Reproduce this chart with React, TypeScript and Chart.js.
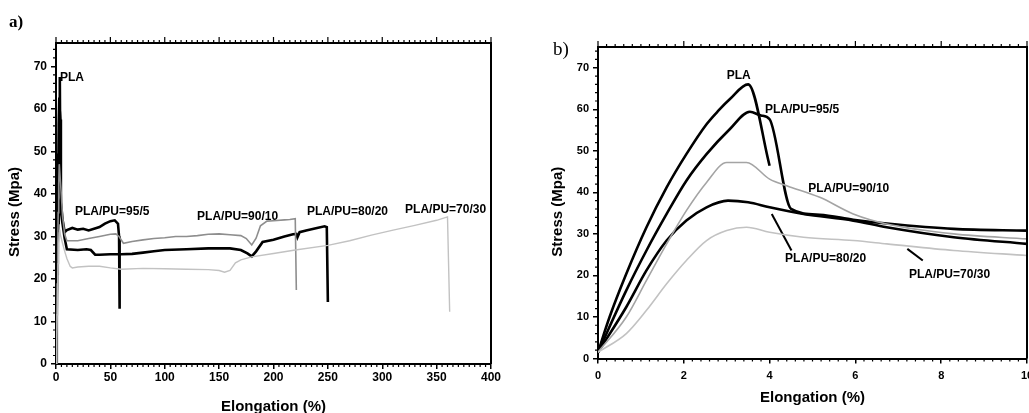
import React, { useEffect, useRef } from "react";
import { Chart, registerables } from "chart.js";

Chart.register(...registerables);

const FONT = "'Liberation Sans', Arial, sans-serif";

// ---------- Panel a: full stress-strain curves ----------
const plaAX = [0, 0.7, 1.1, 1.6, 2, 2.5, 3, 3.5, 4];
const plaAY = [0, 20.4, 31.6, 41.2, 49.2, 56.4, 62.4, 67.5, 46];

const pu95AX = [0, 0.66, 1.1, 1.6, 2, 2.5, 3, 3.5, 4, 4.5, 6, 8, 10, 15, 20, 25, 30, 35, 40, 45, 50, 54, 57, 58, 58.5];
const pu95AY = [0, 16.4, 26, 34.8, 42.8, 49.2, 55.2, 59.5, 57.5, 38, 34, 31, 31.5, 32, 31.6, 31.8, 31.4, 31.8, 32.2, 33, 33.6, 33.8, 33, 30, 13];

const pu90AX = [0, 0.66, 1.1, 1.6, 2, 2.5, 3, 3.5, 4, 5, 6, 8, 10, 20, 30, 40, 50, 55, 58, 62, 70, 80, 90, 100, 110, 120, 130, 140, 150, 160, 170, 175, 180, 184, 188, 194, 200, 210, 215, 220, 221];
const pu90AY = [0, 10, 18.8, 27.6, 35.6, 42.4, 47, 47, 43.2, 39.5, 34.8, 30.5, 29, 29, 29.5, 30, 30.5, 30.6, 30, 28.4, 28.8, 29.2, 29.5, 29.7, 30, 30, 30.2, 30.5, 30.6, 30.4, 30.2, 29.5, 28, 29.6, 32.5, 33.6, 33.7, 33.9, 34, 34.2, 17.4];

const pu80AX = [0, 0.66, 1.1, 1.6, 2, 2.5, 3, 3.5, 4, 5, 6, 8, 10, 20, 28, 32, 36, 40, 50, 60, 70, 80, 90, 100, 120, 140, 160, 170, 176, 180, 184, 190, 200, 210, 218, 221, 222, 224, 230, 240, 247, 249, 250];
const pu80AY = [0, 12.4, 21.2, 28.4, 33.2, 36.4, 38, 37.6, 36.4, 35, 33, 29.5, 27, 26.8, 27, 26.8, 25.7, 25.7, 25.8, 25.8, 25.9, 26.2, 26.5, 26.8, 27, 27.2, 27.2, 26.8, 26, 25.3, 26.5, 28.7, 29.2, 30, 30.5, 30.6, 29.8, 31, 31.4, 32, 32.4, 32.2, 14.6];

const pu70AX = [0, 0.66, 1.1, 1.6, 2, 2.5, 3, 3.5, 4, 6, 8, 10, 13, 15, 20, 30, 40, 50, 60, 80, 100, 120, 140, 150, 155, 160, 165, 170, 180, 200, 220, 250, 270, 290, 310, 330, 350, 360, 362];
const pu70AY = [0, 6, 11.6, 18, 23.6, 28.4, 30.8, 31.6, 30.4, 28.4, 26.5, 24.8, 23, 22.6, 22.8, 23, 23, 22.6, 22.3, 22.5, 22.4, 22.3, 22.2, 22, 21.6, 22, 23.8, 24.5, 25.2, 26, 26.8, 27.9, 29, 30.3, 31.5, 32.6, 33.8, 34.6, 12.3];

// ---------- Panel b: initial region ----------
const plaBX = [0, 0.27, 0.66, 1.13, 1.6, 2.06, 2.53, 2.8, 3.07, 3.5, 4.0];
const plaBY = [1.5, 10, 20.4, 31.6, 41.2, 49.2, 56.4, 59.6, 62.4, 66, 46.4];

const pu95BX = [0, 0.66, 1.13, 1.6, 2.06, 2.53, 3.07, 3.54, 3.8, 4.0, 4.5, 5.17, 5.95, 6.73, 8.29, 10];
const pu95BY = [1.5, 16.4, 26, 34.8, 42.8, 49.2, 55.2, 59.4, 58.5, 57.6, 36, 34.6, 33.4, 32.5, 31.2, 30.8];

const pu90BX = [0, 0.66, 1.13, 1.6, 2.06, 2.53, 3.0, 3.46, 4.0, 4.4, 5.17, 5.95, 6.73, 8.29, 10];
const pu90BY = [1.5, 10, 18.8, 27.6, 35.6, 42.4, 47.2, 47.2, 43.2, 41.6, 38.8, 34.8, 32.4, 30, 28.8];

const pu80BX = [0, 0.66, 1.13, 1.6, 2.06, 2.53, 3.03, 3.5, 4.0, 4.79, 5.95, 6.73, 8.29, 10];
const pu80BY = [1.5, 12.4, 21.2, 28.4, 33.2, 36.4, 38, 37.6, 36.4, 34.8, 33.2, 31.6, 29.2, 27.6];

const pu70BX = [0, 0.66, 1.13, 1.6, 2.06, 2.53, 3.0, 3.46, 4.0, 4.79, 5.95, 6.73, 8.29, 10];
const pu70BY = [1.5, 6, 11.6, 18, 23.6, 28.4, 30.8, 31.6, 30.4, 29.2, 28.4, 27.6, 26, 24.8];

const leader80BX = [4.05, 4.51];
const leader80BY = [34.8, 26];
const leader70BX = [7.21, 7.57];
const leader70BY = [26.4, 23.6];

// ---------- ticks ----------
const xTicksA = [0, 50, 100, 150, 200, 250, 300, 350, 400];
const xTicksB = [0, 2, 4, 6, 8, 10];
const yTicks = [0, 10, 20, 30, 40, 50, 60, 70];

// ---------- annotation texts ----------
const labelTexts = ["PLA", "PLA/PU=95/5", "PLA/PU=90/10", "PLA/PU=80/20", "PLA/PU=70/30"];
const labelAX = [3.7, 17.5, 129.7, 230.8, 321];
const labelAY = [67.3, 35.8, 34.6, 35.8, 36.2];
const labelBX = [3.0, 3.89, 4.9, 4.36, 7.25];
const labelBY = [68, 60, 41, 24, 20.1];

const BLACK = "#000000";
const GRAY1 = "#8e8e8e";
const GRAY2 = "#c2c2c2";

function ds(xs: number[], ys: number[], color: string, width: number, smooth = false) {
  return {
    data: xs.map((x, i) => ({ x, y: ys[i] })),
    borderColor: color,
    backgroundColor: color,
    borderWidth: width,
    showLine: true,
    pointRadius: 0,
    tension: smooth ? 0.4 : 0,
    cubicInterpolationMode: smooth ? "monotone" : "default",
    fill: false,
  };
}

type PanelCfg = {
  width: number;
  height: number;
  padTop: number;
  padRight: number;
  yWidth: number;
  xHeight: number;
  xMax: number;
  yMax: number;
  xTicks: number[];
  xMinor: number;
  yMinor: number;
  tickFont: number;
  xTickPad: number;
  datasets: any[];
  labelX: number[];
  labelY: number[];
  xTitleDy: number;
  yTitleDx: number;
  yTitleDy: number;
};

function framePlugin(cfg: PanelCfg) {
  return {
    id: "frame",
    afterDraw(chart: any) {
      const { ctx, chartArea: a } = chart;
      const x = chart.scales.x;
      const y = chart.scales.y;
      ctx.save();
      ctx.strokeStyle = BLACK;
      ctx.lineWidth = 2;
      ctx.beginPath();
      ctx.moveTo(a.left, a.top);
      ctx.lineTo(a.right, a.top);
      ctx.lineTo(a.right, a.bottom);
      ctx.stroke();
      ctx.lineWidth = 1.2;
      ctx.beginPath();
      const nx = Math.round((x.max - x.min) / cfg.xMinor);
      for (let i = 0; i <= nx; i++) {
        const v = x.min + i * cfg.xMinor;
        const px = x.getPixelForValue(v);
        const major = cfg.xTicks.some((t) => Math.abs(t - v) < 1e-6);
        if (!major) {
          ctx.moveTo(px, a.bottom);
          ctx.lineTo(px, a.bottom + 3);
        }
        ctx.moveTo(px, a.top);
        ctx.lineTo(px, a.top - (major ? 6 : 3));
      }
      const ny = Math.floor((y.max - y.min) / cfg.yMinor + 1e-6);
      for (let i = 0; i <= ny; i++) {
        const v = y.min + i * cfg.yMinor;
        if (yTicks.some((t) => Math.abs(t - v) < 1e-6)) continue;
        const py = y.getPixelForValue(v);
        ctx.moveTo(a.left, py);
        ctx.lineTo(a.left - 3, py);
      }
      ctx.stroke();
      ctx.fillStyle = BLACK;
      ctx.font = `bold 12px ${FONT}`;
      ctx.textAlign = "left";
      ctx.textBaseline = "middle";
      labelTexts.forEach((t, i) => {
        ctx.fillText(t, x.getPixelForValue(cfg.labelX[i]), y.getPixelForValue(cfg.labelY[i]));
      });
      ctx.font = `bold 15px ${FONT}`;
      ctx.textAlign = "center";
      ctx.fillText("Elongation (%)", (a.left + a.right) / 2, a.bottom + cfg.xTitleDy);
      ctx.save();
      ctx.translate(a.left - cfg.yTitleDx, (a.top + a.bottom) / 2 + cfg.yTitleDy);
      ctx.rotate(-Math.PI / 2);
      ctx.fillText("Stress (Mpa)", 0, 0);
      ctx.restore();
      ctx.restore();
    },
  };
}

function Panel({ cfg, left }: { cfg: PanelCfg; left: number }) {
  const ref = useRef<HTMLCanvasElement | null>(null);
  useEffect(() => {
    if (!ref.current) return;
    const tickFont = { family: FONT, size: cfg.tickFont, weight: "bold" as const };
    const chart = new Chart(ref.current, {
      type: "scatter",
      data: { datasets: cfg.datasets },
      options: {
        animation: false,
        responsive: false,
        maintainAspectRatio: false,
        devicePixelRatio: 1,
        layout: { padding: { left: 0, top: cfg.padTop, right: cfg.padRight, bottom: 0 } },
        plugins: { legend: { display: false }, tooltip: { enabled: false } },
        scales: {
          x: {
            type: "linear",
            min: 0,
            max: cfg.xMax,
            afterBuildTicks: (s: any) => {
              s.ticks = cfg.xTicks.map((v) => ({ value: v }));
            },
            afterFit: (s: any) => {
              s.height = cfg.xHeight;
              s.paddingLeft = 0;
              s.paddingRight = 0;
            },
            grid: { display: true, drawOnChartArea: false, drawTicks: true, tickLength: 5, color: BLACK, lineWidth: 1.5 },
            border: { display: true, color: BLACK, width: 2 },
            ticks: { color: BLACK, font: tickFont, padding: cfg.xTickPad, maxRotation: 0, autoSkip: false },
          },
          y: {
            type: "linear",
            min: 0,
            max: cfg.yMax,
            afterBuildTicks: (s: any) => {
              s.ticks = yTicks.map((v) => ({ value: v }));
            },
            afterFit: (s: any) => {
              s.width = cfg.yWidth;
              s.paddingTop = 0;
              s.paddingBottom = 0;
            },
            grid: { display: true, drawOnChartArea: false, drawTicks: true, tickLength: 5, color: BLACK, lineWidth: 1.5 },
            border: { display: true, color: BLACK, width: 2 },
            ticks: { color: BLACK, font: tickFont, padding: 4 },
          },
        },
      } as any,
      plugins: [framePlugin(cfg)],
    });
    return () => chart.destroy();
  }, []);
  return (
    <canvas
      ref={ref}
      width={cfg.width}
      height={cfg.height}
      style={{ position: "absolute", left, top: 0, width: cfg.width, height: cfg.height }}
    />
  );
}

const cfgA: PanelCfg = {
  width: 520,
  height: 413,
  padTop: 43,
  padRight: 29,
  yWidth: 56,
  xHeight: 49,
  xMax: 400,
  yMax: 75.5,
  xTicks: xTicksA,
  xMinor: 5,
  yMinor: 2,
  tickFont: 12,
  xTickPad: 1,
  datasets: [
    ds(pu70AX, pu70AY, GRAY2, 1.4),
    ds(pu90AX, pu90AY, GRAY1, 1.6),
    ds(pu80AX, pu80AY, BLACK, 2.6),
    ds(pu95AX, pu95AY, BLACK, 2.6),
    ds(plaAX, plaAY, BLACK, 2.6),
  ],
  labelX: labelAX,
  labelY: labelAY,
  xTitleDy: 43,
  yTitleDx: 41,
  yTitleDy: 8.5,
};

const cfgB: PanelCfg = {
  width: 509,
  height: 413,
  padTop: 47,
  padRight: 2,
  yWidth: 78,
  xHeight: 54.5,
  xMax: 10,
  yMax: 75,
  xTicks: xTicksB,
  xMinor: 0.2,
  yMinor: 2,
  tickFont: 11,
  xTickPad: 6,
  datasets: [
    ds(pu70BX, pu70BY, GRAY2, 1.6, true),
    ds(pu90BX, pu90BY, "#a4a4a4", 1.6, true),
    ds(pu80BX, pu80BY, BLACK, 2.6, true),
    ds(pu95BX, pu95BY, BLACK, 2.6, true),
    ds(plaBX, plaBY, BLACK, 2.6, true),
    ds(leader80BX, leader80BY, BLACK, 2),
    ds(leader70BX, leader70BY, BLACK, 2),
  ],
  labelX: labelBX,
  labelY: labelBY,
  xTitleDy: 39.5,
  yTitleDx: 40,
  yTitleDy: 9,
};

export default function App() {
  return (
    <div
      style={{
        position: "fixed",
        left: 0,
        top: 0,
        width: 1029,
        height: 413,
        overflow: "hidden",
        background: "#ffffff",
      }}
    >
      <Panel cfg={cfgA} left={0} />
      <Panel cfg={cfgB} left={520} />
      <div
        style={{
          position: "absolute",
          left: 9,
          top: 13,
          font: "bold 17px 'Liberation Serif', serif",
          lineHeight: 1,
          color: "#000",
        }}
      >
        a)
      </div>
      <div
        style={{
          position: "absolute",
          left: 553,
          top: 39,
          font: "19px 'Liberation Serif', serif",
          lineHeight: 1,
          color: "#000",
        }}
      >
        b)
      </div>
    </div>
  );
}
